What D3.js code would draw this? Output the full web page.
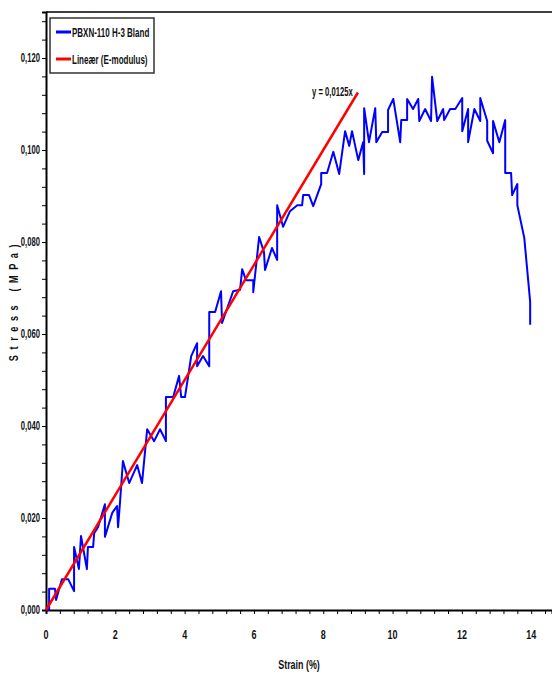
<!DOCTYPE html>
<html>
<head>
<meta charset="utf-8">
<script src="https://cdn.jsdelivr.net/npm/d3@7"></script>
<style>
	body{margin:0;background:#fff;}
	text{font-family:"Liberation Sans",Arial,sans-serif;font-weight:bold;fill:#111;}
</style>
</head>
<body>
<script>
//measured curve, strain in % and stress in MPa
var strain=[0,0.09,0.09,0.26,0.29,0.46,0.64,0.81,0.81,0.95,1.01,1.18,1.21,1.36,1.39,1.50,1.70,1.70,1.91,2.05,2.08,2.14,2.22,2.40,2.63,2.77,2.92,3.12,3.29,3.46,3.46,3.67,3.84,3.90,4.01,4.19,4.36,4.36,4.53,4.71,4.71,4.88,5.05,5.08,5.40,5.60,5.66,5.77,5.98,5.98,6.15,6.29,6.32,6.52,6.67,6.67,6.84,7.04,7.25,7.39,7.42,7.59,7.71,7.94,7.94,8.11,8.29,8.46,8.63,8.75,8.83,9.01,9.15,9.18,9.18,9.32,9.50,9.53,9.70,9.87,9.87,10.02,10.22,10.25,10.42,10.42,10.59,10.74,10.77,10.94,11.11,11.14,11.29,11.46,11.49,11.66,11.81,12.01,12.01,12.18,12.18,12.36,12.53,12.53,12.73,12.73,12.90,12.90,13.08,13.25,13.25,13.42,13.45,13.60,13.60,13.80,13.97,13.97];
var stress=[0,0,0.0046,0.0046,0.0022,0.0067,0.0067,0.0041,0.0137,0.0089,0.0161,0.0089,0.0137,0.0137,0.0167,0.0180,0.0230,0.0159,0.0211,0.0226,0.0180,0.0239,0.0324,0.0276,0.0315,0.0276,0.0393,0.0367,0.0393,0.0367,0.0463,0.0463,0.0509,0.0463,0.0463,0.0552,0.0580,0.0530,0.0552,0.0530,0.0648,0.0648,0.0693,0.0624,0.0693,0.0696,0.0741,0.0717,0.0717,0.0691,0.0811,0.0778,0.0739,0.0787,0.0761,0.0880,0.0833,0.0867,0.0880,0.0880,0.0902,0.0902,0.0878,0.0926,0.0950,0.0950,0.0996,0.0948,0.1041,0.1009,0.1041,0.0978,0.1017,0.0948,0.1091,0.1017,0.1091,0.1017,0.1039,0.1039,0.1087,0.1111,0.1017,0.1065,0.1065,0.1111,0.1089,0.1111,0.1063,0.1089,0.1063,0.1159,0.1063,0.1089,0.1065,0.1089,0.1089,0.1113,0.1041,0.1089,0.1017,0.1089,0.1063,0.1113,0.1063,0.1020,0.0993,0.1063,0.1017,0.1065,0.0950,0.0950,0.0902,0.0926,0.0880,0.0809,0.0670,0.0620];

//linear fit (E-modulus)
var slope=0.0125;
var fitStrain=[0,9];

//tick labels
var xLabels=[0,2,4,6,8,10,12,14];
var yLabels=[0,0.02,0.04,0.06,0.08,0.10,0.12];
var legendNames=["PBXN-110 H-3 Bland","Lineær (E-modulus)"];
var legendColors=["#0000ff","#ff0000"];

window.onload=drawChart();

//narrow bold text, squeezed sideways like the original plot font
function narrowText(sel,x,y,str,size,anchor,sx){
	return sel.append("text")
		.attr("transform","translate("+x+","+y+") scale("+sx+",1)")
		.attr("text-anchor",anchor)
		.style("font-size",size+"px")
		.text(str);
};

function drawChart(){
	var width=552,
		height=677;

	var svg=d3.select("body")
		.append("svg")
		.attr("width",width)
		.attr("height",height);

	//scales
	var x=d3.scaleLinear().domain([0,14.6]).range([46,552]);
	var y=d3.scaleLinear().domain([0,0.13]).range([610,12]);

	var fmt=function(d){return d3.format(".3f")(d).replace(".",",");};

	//x axis, minor ticks every 0.4, labels every 2
	var xAxis=d3.axisBottom(x)
		.tickValues(d3.range(0,14.6,0.4))
		.tickSize(4)
		.tickFormat("");
	svg.append("g")
		.attr("class","xaxis")
		.attr("transform","translate(0,"+y(0)+")")
		.call(xAxis);
	xLabels.forEach(function(d){
		narrowText(svg,x(d),639,d,12.5,"middle",0.72);
	});

	//y axis, minor ticks every 0.004, labels every 0.02
	var yAxis=d3.axisLeft(y)
		.tickValues(d3.range(0,0.1295,0.004))
		.tickSize(4)
		.tickFormat("");
	svg.append("g")
		.attr("class","yaxis")
		.attr("transform","translate("+x(0)+",0)")
		.call(yAxis);
	yLabels.forEach(function(d){
		narrowText(svg,40,y(d)+4,fmt(d),12,"end",0.64);
	});

	//axis line styling
	svg.selectAll(".xaxis path,.yaxis path").attr("stroke","#000").attr("stroke-width",2);
	svg.selectAll(".xaxis line,.yaxis line").attr("stroke","#000").attr("stroke-width",1);

	//top frame line
	svg.append("line")
		.attr("x1",x(0)).attr("x2",width)
		.attr("y1",y(0.13)).attr("y2",y(0.13))
		.attr("stroke","#000")
		.attr("stroke-width",1.5);

	//measured curve
	var pts=strain.map(function(d,i){return [d,stress[i]];});
	var line=d3.line()
		.x(function(d){return x(d[0]);})
		.y(function(d){return y(d[1]);});
	svg.append("path")
		.datum(pts)
		.attr("d",line)
		.attr("fill","none")
		.attr("stroke",legendColors[0])
		.attr("stroke-width",2)
		.attr("stroke-linejoin","round");

	//fitted line
	svg.append("path")
		.datum(fitStrain.map(function(d){return [d,d*slope];}))
		.attr("d",line)
		.attr("fill","none")
		.attr("stroke",legendColors[1])
		.attr("stroke-width",2.5);

	//equation label
	narrowText(svg,312,96,"y = 0,0125x",12,"start",0.64);

	//legend
	var legend=svg.append("g").attr("class","legend");
	legend.append("rect")
		.attr("x",50).attr("y",18)
		.attr("width",104).attr("height",55)
		.attr("fill","#fff")
		.attr("stroke","#333")
		.attr("stroke-width",1.5);
	legendNames.forEach(function(d,i){
		legend.append("line")
			.attr("x1",56).attr("x2",71)
			.attr("y1",32+i*27).attr("y2",32+i*27)
			.attr("stroke",legendColors[i])
			.attr("stroke-width",3);
		narrowText(legend,72,37+i*27,d,12.5,"start",0.64);
	});

	//axis titles
	narrowText(svg,299,669,"Strain (%)",13.5,"middle",0.66);
	svg.append("text")
		.attr("transform","translate(18,300) rotate(-90) scale(0.7,1)")
		.attr("text-anchor","middle")
		.style("font-size","13px")
		.style("letter-spacing","8px")
		.text("Stress (MPa)");
};
</script>
</body>
</html>
